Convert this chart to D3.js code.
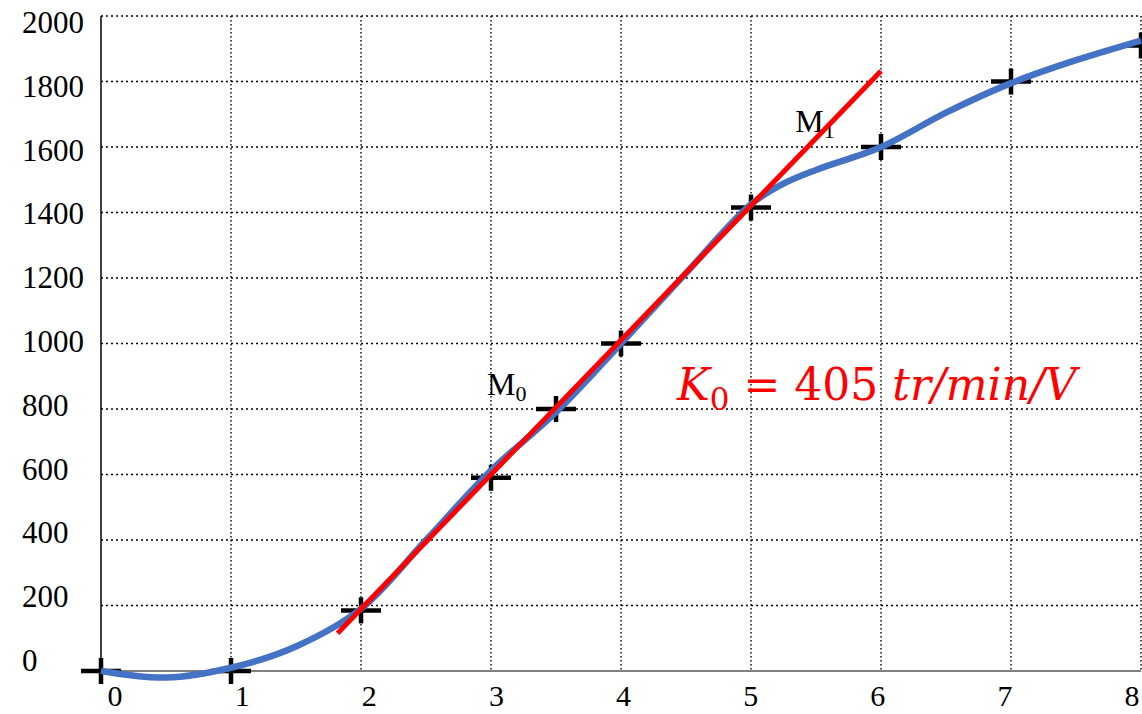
<!DOCTYPE html>
<html>
<head>
<meta charset="utf-8">
<script src="https://cdn.jsdelivr.net/npm/d3@7"></script>
<style>
  body { margin: 0; background: #fff; }
  svg { display: block; }
</style>
</head>
<body>
<div id="viz"></div>
<script>
// measured points (crosses)
const ptX = [0, 1, 2, 3, 3.5, 4, 5, 6, 7, 8];
const ptY = [0, 0, 185, 590, 800, 1000, 1415, 1600, 1800, 1910];

// smooth blue curve
const curveX = [0, 0.5, 1, 1.5, 2, 2.5, 3, 3.5, 4, 4.5, 5, 5.25, 5.5, 6, 6.5, 7, 7.5, 8];
const curveY = [0, -20, 10, 75, 190, 400, 612, 790, 1000, 1215, 1425, 1488, 1530, 1600, 1705, 1795, 1865, 1925];

// red tangent line
const redX = [1.82, 6];
const redY = [115, 1832];

const xTicks = [0, 1, 2, 3, 4, 5, 6, 7, 8];
const yTicks = [0, 200, 400, 600, 800, 1000, 1200, 1400, 1600, 1800, 2000];

const width = 1142;
const height = 714;
const serif = '"Liberation Serif", "Times New Roman", serif';

const x = d3.scaleLinear().domain([0, 8]).range([101, 1141]);
const y = d3.scaleLinear().domain([0, 2000]).range([671, 16]);
// tick labels in the original drift a little from the grid
const xLab = d3.scaleLinear().domain([0, 8]).range([115, 1132]);
const yLab = d3.scaleLinear().domain([0, 2000]).range([671, 33]);

const svg = d3.select('#viz')
	.append('svg')
	.attr('width', width)
	.attr('height', height)
	.attr('viewBox', [0, 0, width, height]);

// grid
svg.append('g')
	.selectAll('line')
	.data(yTicks.filter(d => d > 0))
	.join('line')
	.attr('x1', x(0))
	.attr('x2', x(8))
	.attr('y1', d => y(d))
	.attr('y2', d => y(d))
	.attr('stroke', '#000')
	.attr('stroke-width', 1.7)
	.attr('stroke-dasharray', '2,3');

svg.append('g')
	.selectAll('line')
	.data(xTicks.filter(d => d > 0))
	.join('line')
	.attr('x1', d => x(d))
	.attr('x2', d => x(d))
	.attr('y1', y(2000))
	.attr('y2', y(0))
	.attr('stroke', '#000')
	.attr('stroke-width', 1.4)
	.attr('stroke-dasharray', '1.5,2.5');

// axes lines
svg.append('line')
	.attr('x1', x(0)).attr('x2', x(0))
	.attr('y1', y(2000)).attr('y2', y(0))
	.attr('stroke', '#000')
	.attr('stroke-width', 1.5);

svg.append('line')
	.attr('x1', x(0)).attr('x2', x(8))
	.attr('y1', y(0)).attr('y2', y(0))
	.attr('stroke', '#555')
	.attr('stroke-width', 1.5);

// tick labels
svg.append('g')
	.selectAll('text')
	.data(yTicks)
	.join('text')
	.attr('x', 22)
	.attr('y', d => yLab(d))
	.attr('font-family', serif)
	.attr('font-size', 31)
	.attr('fill', '#000')
	.text(d => d);

svg.append('g')
	.selectAll('text')
	.data(xTicks)
	.join('text')
	.attr('x', d => xLab(d))
	.attr('y', 706)
	.attr('text-anchor', 'middle')
	.attr('font-family', serif)
	.attr('font-size', 30)
	.attr('fill', '#000')
	.text(d => d);

// crosses
const pts = ptX.map((d, i) => [d, ptY[i]]);
const marks = svg.append('g')
	.selectAll('g')
	.data(pts)
	.join('g')
	.attr('transform', d => `translate(${x(d[0])},${y(d[1])})`);

marks.append('line')
	.attr('x1', -20).attr('x2', 20)
	.attr('stroke', '#000')
	.attr('stroke-width', 4.5);

marks.append('line')
	.attr('y1', -13).attr('y2', 13)
	.attr('stroke', '#000')
	.attr('stroke-width', 4.5);

// annotations
const addM = (px, py, sub) => {
	const t = svg.append('text')
		.attr('x', x(px))
		.attr('y', y(py))
		.attr('font-family', serif)
		.attr('font-size', 32)
		.attr('fill', '#000');
	t.append('tspan').text('M');
	t.append('tspan').attr('font-size', 22).attr('dy', 6).text(sub);
};
addM(2.97, 843, '0');
addM(5.34, 1646, '1');

const k = svg.append('text')
	.attr('x', x(4.43))
	.attr('y', y(827))
	.attr('font-family', '"DejaVu Serif", serif')
	.attr('font-size', 44)
	.attr('fill', '#ff0000');
k.append('tspan').attr('font-style', 'italic').text('K');
k.append('tspan').attr('font-size', 31).attr('dy', 10).text('0');
k.append('tspan').attr('dy', -10).text(' = 405 ');
k.append('tspan').attr('font-style', 'italic').text('tr/min/V');

// blue curve
const curve = d3.line()
	.x(d => x(d[0]))
	.y(d => y(d[1]))
	.curve(d3.curveCatmullRom);

svg.append('path')
	.attr('d', curve(curveX.map((d, i) => [d, curveY[i]])))
	.attr('fill', 'none')
	.attr('stroke', '#4472c4')
	.attr('stroke-width', 6.5);

// red line
svg.append('path')
	.attr('d', d3.line().x(d => x(d[0])).y(d => y(d[1]))(redX.map((d, i) => [d, redY[i]])))
	.attr('fill', 'none')
	.attr('stroke', '#ff0000')
	.attr('stroke-width', 5);
</script>
</body>
</html>
